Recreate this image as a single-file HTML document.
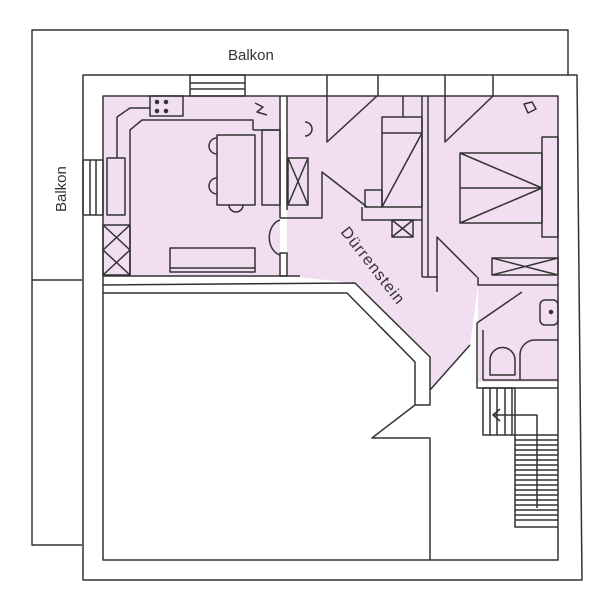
<!DOCTYPE html>
<html><head><meta charset="utf-8"><style>html,body{margin:0;padding:0;background:#fff}svg{display:block}</style></head>
<body>
<svg width="600" height="600" viewBox="0 0 600 600" xmlns="http://www.w3.org/2000/svg">
<g fill="#f1def1" stroke="none">
<polygon points="103,96 280,96 280,276 103,276"/>
<polygon points="287,96 558,96 558,285 478,285 470,345 430,390 430,357 355,283 287,276"/>
<polygon points="478,285 558,285 558,382 478,382"/>
</g>
<g fill="none" stroke="#333" stroke-width="1.5" stroke-linejoin="round">
<polyline points="82,545 32,545 32,30 568,30 568,75"/>
<line x1="32" y1="280" x2="82" y2="280"/>
<polygon points="83,75 577,75 582,580 83,580"/>
<polygon points="103,96 558,96 558,560 103,560"/>
<rect x="190" y="75" width="55" height="21"/><line x1="190" y1="83" x2="245" y2="83"/><line x1="190" y1="89" x2="245" y2="89"/>
<rect x="83" y="160" width="20" height="55"/><line x1="90" y1="160" x2="90" y2="215"/><line x1="96" y1="160" x2="96" y2="215"/>
<polyline points="103,293 347,293 415,362 415,405 372,438 430,438 430,560"/>
<polyline points="103,285 355,283 430,357 430,405 415,405"/>
<line x1="103" y1="276" x2="300" y2="276"/>
<line x1="430" y1="390" x2="470" y2="345"/>
<line x1="477" y1="323" x2="522" y2="292"/>
<polyline points="253,130 253,120 142,120 130,130 130,276"/>
<polyline points="150,108 130,108 117,117 117,158"/>
<rect x="150" y="96" width="33" height="20"/>
<g fill="#333"><circle cx="157" cy="102" r="1.5"/><circle cx="166" cy="102" r="1.5"/><circle cx="157" cy="111" r="1.5"/><circle cx="166" cy="111" r="1.5"/></g>
<rect x="107" y="158" width="18" height="57"/>
<rect x="103" y="225" width="27" height="50"/><path d="M103,225L130,250M130,225L103,250M103,250L130,275M130,250L103,275"/>
<rect x="217" y="135" width="38" height="70"/>
<path d="M217,138a8,8 0 0 0 0,16M217,178a8,8 0 0 0 0,16M229,205a7,7 0 0 0 14,0"/>
<polyline points="253,130 280,130"/><rect x="262" y="130" width="18" height="75"/>
<line x1="280" y1="96" x2="280" y2="218"/>
<line x1="287" y1="96" x2="287" y2="210"/>
<rect x="288" y="158" width="20" height="47"/><path d="M288,158L308,205M308,158L288,205"/>
<path d="M305,122a6,6 0 0 1 0,14"/>
<polyline points="280,218 322,218 322,172 367,207"/>
<path d="M280,220a14,18 0 0 0 0,35"/>
<rect x="280" y="253" width="7" height="23"/>
<rect x="170" y="248" width="85" height="24"/><line x1="170" y1="268" x2="255" y2="268"/>
<path d="M255,103l8,4-6,5l10,3"/>
<polyline points="327,75 327,142 377,96"/><line x1="378" y1="75" x2="378" y2="96"/>
<polyline points="445,75 445,142 493,96"/><line x1="493" y1="75" x2="493" y2="96"/>
<line x1="422" y1="96" x2="422" y2="277"/><line x1="428" y1="96" x2="428" y2="277"/><line x1="422" y1="277" x2="438" y2="277"/>
<polyline points="437,292 437,237 477,277"/>
<rect x="382" y="117" width="40" height="90"/><line x1="382" y1="133" x2="422" y2="133"/><line x1="422" y1="133" x2="382" y2="207"/>
<rect x="365" y="190" width="17" height="17"/>
<polyline points="362,207 362,220 422,220"/>
<rect x="392" y="220" width="21" height="17"/><path d="M392,220L413,237M413,220L392,237"/>
<line x1="403" y1="96" x2="403" y2="117"/>
<rect x="460" y="153" width="82" height="70"/><line x1="460" y1="188" x2="542" y2="188"/><path d="M460,153L542,188L460,223"/>
<rect x="542" y="137" width="16" height="100"/>
<rect x="492" y="258" width="66" height="17"/><path d="M492,258L558,275M558,258L492,275"/>
<polyline points="478,277 478,285 558,285"/>
<path d="M524,104l8,-2 4,7-8,4z"/>
<rect x="540" y="300" width="18" height="25" rx="5"/><circle cx="551" cy="312" r="1.5" fill="#333"/>
<polyline points="477,323 477,388 558,388"/><line x1="483" y1="330" x2="483" y2="380"/><line x1="483" y1="380" x2="558" y2="380"/>
<path d="M490,375v-15a12,12 0 0 1 25,0v15z"/>
<path d="M520,380v-25a15,15 0 0 1 15,-15h23"/>
<rect x="483" y="388" width="32" height="47"/>
<line x1="490" y1="388" x2="490" y2="435"/><line x1="497" y1="388" x2="497" y2="435"/><line x1="505" y1="388" x2="505" y2="435"/><line x1="512" y1="388" x2="512" y2="435"/>
<polyline points="515,435 515,527 558,527"/><line x1="515" y1="435" x2="558" y2="435"/>
<path d="M515,440H558M515,445H558M515,450H558M515,455H558M515,460H558M515,465H558M515,470H558M515,475H558M515,480H558M515,485H558M515,490H558M515,495H558M515,500H558M515,505H558M515,510H558M515,515H558M515,520H558"/>
<polyline points="537,508 537,415 493,415"/><path d="M500,409l-7,6 7,6"/>
</g>
<g font-family="'Liberation Sans',sans-serif" font-size="15" fill="#333">
<text x="228" y="60">Balkon</text>
<text transform="translate(66,212) rotate(-90)">Balkon</text>
<text transform="translate(340,232) rotate(52)" font-size="16" letter-spacing="1">Dürrenstein</text>
</g>
</svg>
</body></html>
